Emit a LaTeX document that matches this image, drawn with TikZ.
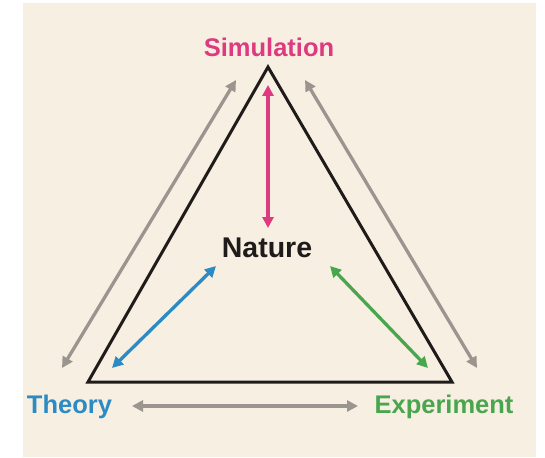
\documentclass[tikz,border=0pt]{standalone}
\usepackage{fontspec}
\setmainfont{Liberation Sans}
\usetikzlibrary{arrows.meta}
\definecolor{bg}{HTML}{F7EFE1}
\definecolor{simc}{HTML}{DE3A7F}
\definecolor{theoc}{HTML}{2C8BC4}
\definecolor{expc}{HTML}{4AA64E}
\definecolor{grayc}{HTML}{9B9590}
\definecolor{tric}{HTML}{1E1B1A}
\begin{document}
\begin{tikzpicture}[x=1pt,y=-1pt,
  lab/.style={font=\fontsize{25.5}{25.5}\selectfont\bfseries, inner sep=0pt},
  dbl/.style={line width=3.3pt, {Triangle[length=11pt,width=11pt]}-{Triangle[length=11pt,width=11pt]}}]
\useasboundingbox (0,0) rectangle (545,457);
\fill[bg] (23,3) rectangle (536,457);
% triangle
\coordinate (A) at (268,67);
\coordinate (B) at (88,382);
\coordinate (C) at (452,382);
\draw[tric, line width=3pt, line join=miter] (A) -- (B) -- (C) -- cycle;
% labels
\node[lab, text=simc] (sim) at (269,47) {Simulation};
\node[lab, text=tric, font=\fontsize{28.5}{28.5}\selectfont\bfseries] (nat) at (267,248) {Nature};
\node[lab, text=theoc] (theo) at (69.5,407) {Theory};
\node[lab, text=expc] (exp) at (444,407) {Experiment};
% arrow end points
\coordinate (p1) at (268,85);  \coordinate (p2) at (268,228);
\coordinate (b1) at (112,368); \coordinate (b2) at (216,266);
\coordinate (g1) at (330,266); \coordinate (g2) at (428,368);
\coordinate (l1) at (62,368);  \coordinate (l2) at (236,80);
\coordinate (r1) at (305,80);  \coordinate (r2) at (477,368);
\coordinate (h1) at (132,406); \coordinate (h2) at (358,406);
\draw[dbl, simc] (p1) -- (p2);
\draw[dbl, theoc] (b1) -- (b2);
\draw[dbl, expc] (g1) -- (g2);
\draw[dbl, grayc] (l1) -- (l2);
\draw[dbl, grayc] (r1) -- (r2);
\draw[dbl, grayc] (h1) -- (h2);
\end{tikzpicture}
\end{document}
